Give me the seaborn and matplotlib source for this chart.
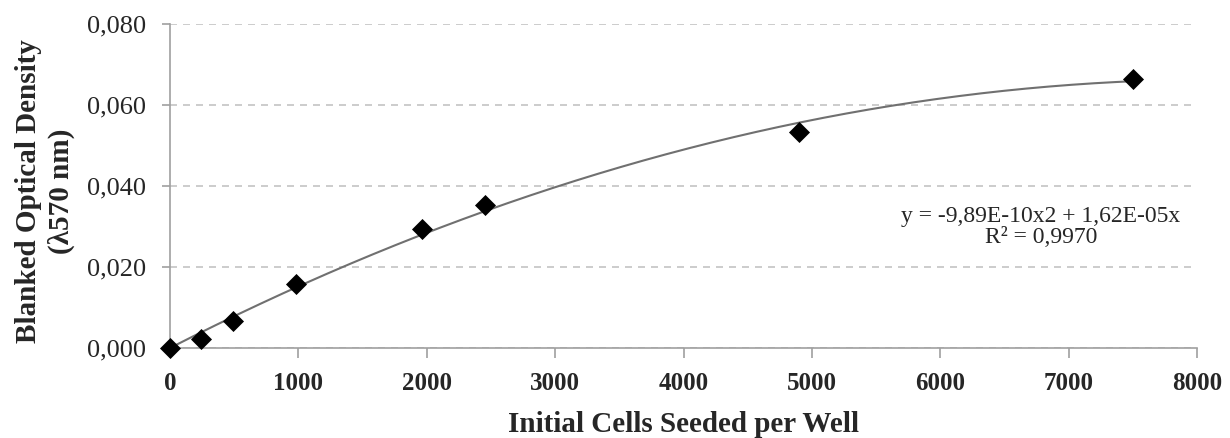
import numpy as np
import pandas as pd
import matplotlib
matplotlib.use("Agg")
import matplotlib.pyplot as plt
import seaborn as sns
from matplotlib.ticker import FuncFormatter

# Data
cells = [0, 245, 490, 980, 1960, 2450, 4900, 7500]
od = [0.0000, 0.0021, 0.0066, 0.0157, 0.0295, 0.0353, 0.0533, 0.0665]
# Trendline coefficients (polynomial, intercept 0)
coef_a = -9.89e-10
coef_b = 1.62e-05
x_ticks = [0, 1000, 2000, 3000, 4000, 5000, 6000, 7000, 8000]
y_ticks = [0.000, 0.020, 0.040, 0.060, 0.080]
eq_text = "y = -9,89E-10x2 + 1,62E-05x\nR² = 0,9970"

sns.set_style("white")
plt.rcParams['font.family'] = ['Liberation Serif', 'DejaVu Serif']

fig = plt.figure(figsize=(12.3, 4.38), dpi=100)
ax = fig.add_axes([170/1230, 1-348/438, (1197-170)/1230, (348-24)/438])

xs = np.linspace(0, max(cells), 300)
trend = pd.DataFrame({"x": xs, "y": coef_a * xs**2 + coef_b * xs})
sns.lineplot(data=trend, x="x", y="y", ax=ax, color="#707070", linewidth=1.5, zorder=2)

df = pd.DataFrame({"cells": cells, "od": od})
sns.scatterplot(data=df, x="cells", y="od", ax=ax, marker="D", s=115, color="black",
                edgecolor="black", linewidth=0, zorder=3, clip_on=False)

ax.set_xlim(0, 8000)
ax.set_ylim(0, 0.080)
ax.set_xticks(x_ticks)
ax.set_yticks(y_ticks)
ax.yaxis.set_major_formatter(FuncFormatter(lambda v, p: f"{v:.3f}".replace(".", ",")))
ax.xaxis.set_major_formatter(FuncFormatter(lambda v, p: f"{int(round(v))}"))

for lab in ax.get_xticklabels():
    lab.set_fontweight("bold")
ax.tick_params(axis="x", labelsize=18, length=7, width=1.2, color="#a0a0a0", pad=10, direction="out", bottom=True)
ax.tick_params(axis="y", labelsize=19, length=6, width=1.2, color="#a0a0a0", pad=11, direction="out", left=True)

ax.yaxis.grid(True, linestyle=(0, (4.2, 3.6)), color="#c4c4c4", linewidth=1.2)
ax.xaxis.grid(False)
ax.set_axisbelow(True)

for side in ["top", "right"]:
    ax.spines[side].set_visible(False)
for side in ["left", "bottom"]:
    ax.spines[side].set_color("#a0a0a0")
    ax.spines[side].set_linewidth(1.2)

ax.set_xlabel("Initial Cells Seeded per Well", fontsize=21, fontweight="bold", labelpad=12)
ax.set_ylabel("Blanked Optical Density\n(λ570 nm)", fontsize=21, fontweight="bold",
              linespacing=1.25)
ax.yaxis.set_label_coords((75-170)/1027, 0.483)

ax.text(6783, 0.0299, eq_text, ha="center", va="center", fontsize=17, linespacing=0.95)

fig.savefig("out.png", dpi=100)
